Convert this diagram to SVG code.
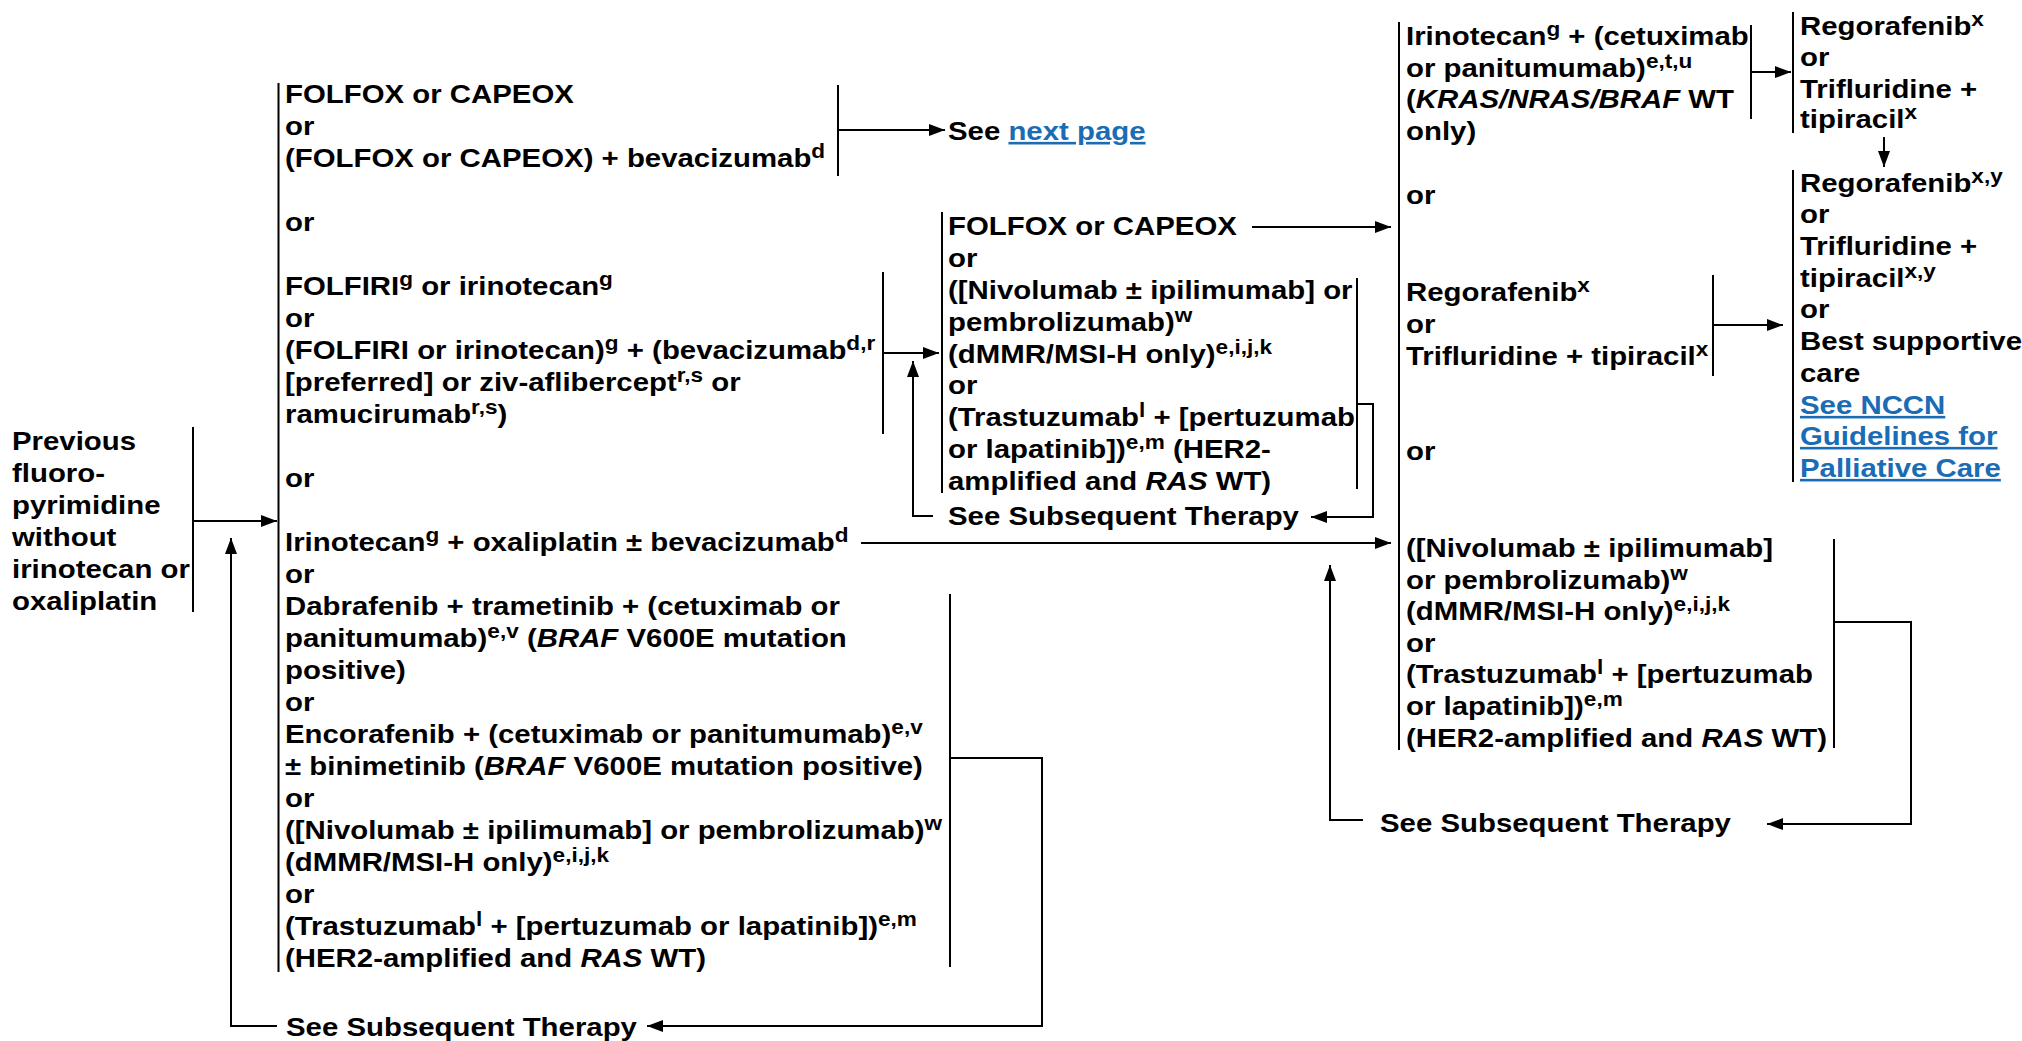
<svg xmlns="http://www.w3.org/2000/svg" width="2022" height="1041" viewBox="0 0 2022 1041">
<style>
.t{font-family:"Liberation Sans",Arial,Helvetica,sans-serif;font-weight:bold;font-size:26px;fill:#000}
.s{font-size:20px;baseline-shift:9px}
.i{font-style:italic}
.lk{fill:#1a6cb4;text-decoration:underline}
.ln{stroke:#000;stroke-width:2;fill:none}
.ar{stroke:#000;stroke-width:2;fill:none;marker-end:url(#ah)}
</style>
<defs>
<marker id="ah" viewBox="0 0 16 12" refX="16" refY="6" markerWidth="16" markerHeight="12" markerUnits="userSpaceOnUse" orient="auto"><path d="M0,0 L16,6 L0,12 z" fill="#000"/></marker>
</defs>
<rect width="2022" height="1041" fill="#fff"/>

<g id="n-start" transform="translate(12,0) scale(1.13,1)">
<text class="t"><tspan x="0" y="450">Previous</tspan><tspan x="0" y="482">fluoro-</tspan><tspan x="0" y="514">pyrimidine</tspan><tspan x="0" y="546">without</tspan><tspan x="0" y="578">irinotecan or</tspan><tspan x="0" y="610">oxaliplatin</tspan></text>
</g>

<g id="n-second-line" transform="translate(285,0) scale(1.13,1)">
<text class="t"><tspan x="0" y="103">FOLFOX or CAPEOX</tspan><tspan x="0" y="135">or</tspan><tspan x="0" y="167">(FOLFOX or CAPEOX) + bevacizumab</tspan><tspan class="s">d</tspan></text>
<text class="t" x="0" y="231">or</text>
<text class="t"><tspan x="0" y="295">FOLFIRI</tspan><tspan class="s">g</tspan><tspan> or irinotecan</tspan><tspan class="s">g</tspan><tspan x="0" y="327">or</tspan><tspan x="0" y="359">(FOLFIRI or irinotecan)</tspan><tspan class="s">g</tspan><tspan> + (bevacizumab</tspan><tspan class="s">d,r</tspan><tspan x="0" y="391">[preferred] or ziv-aflibercept</tspan><tspan class="s">r,s</tspan><tspan> or</tspan><tspan x="0" y="423">ramucirumab</tspan><tspan class="s">r,s</tspan><tspan>)</tspan></text>
<text class="t" x="0" y="487">or</text>
<text class="t"><tspan x="0" y="551">Irinotecan</tspan><tspan class="s">g</tspan><tspan> + oxaliplatin ± bevacizumab</tspan><tspan class="s">d</tspan></text>
<text class="t" x="0" y="583">or</text>
<text class="t"><tspan x="0" y="615">Dabrafenib + trametinib + (cetuximab or</tspan><tspan x="0" y="647">panitumumab)</tspan><tspan class="s">e,v</tspan><tspan> (</tspan><tspan class="i">BRAF</tspan><tspan> V600E mutation</tspan><tspan x="0" y="679">positive)</tspan><tspan x="0" y="711">or</tspan><tspan x="0" y="743">Encorafenib + (cetuximab or panitumumab)</tspan><tspan class="s">e,v</tspan><tspan x="0" y="775">± binimetinib (</tspan><tspan class="i">BRAF</tspan><tspan> V600E mutation positive)</tspan><tspan x="0" y="807">or</tspan><tspan x="0" y="839">([Nivolumab ± ipilimumab] or pembrolizumab)</tspan><tspan class="s">w</tspan><tspan x="0" y="871">(dMMR/MSI-H only)</tspan><tspan class="s">e,i,j,k</tspan><tspan x="0" y="903">or</tspan><tspan x="0" y="935">(Trastuzumab</tspan><tspan class="s">l</tspan><tspan> + [pertuzumab or lapatinib])</tspan><tspan class="s">e,m</tspan><tspan x="0" y="967">(HER2-amplified and </tspan><tspan class="i">RAS</tspan><tspan> WT)</tspan></text>
</g>

<g id="n-subseq-1" transform="translate(286,0) scale(1.13,1)">
<text class="t" x="0" y="1036">See Subsequent Therapy</text>
</g>

<g id="n-next-page" transform="translate(948,0) scale(1.13,1)">
<text class="t" x="0" y="140">See <tspan class="lk">next page</tspan></text>
</g>

<g id="n-third-line-a" transform="translate(948,0) scale(1.13,1)">
<text class="t"><tspan x="0" y="235">FOLFOX or CAPEOX</tspan><tspan x="0" y="267">or</tspan><tspan x="0" y="299">([Nivolumab ± ipilimumab] or</tspan><tspan x="0" y="331">pembrolizumab)</tspan><tspan class="s">w</tspan><tspan x="0" y="363">(dMMR/MSI-H only)</tspan><tspan class="s">e,i,j,k</tspan><tspan x="0" y="394">or</tspan><tspan x="0" y="426">(Trastuzumab</tspan><tspan class="s">l</tspan><tspan> + [pertuzumab</tspan><tspan x="0" y="458">or lapatinib])</tspan><tspan class="s">e,m</tspan><tspan> (HER2-</tspan><tspan x="0" y="490">amplified and </tspan><tspan class="i">RAS</tspan><tspan> WT)</tspan></text>
</g>

<g id="n-subseq-2" transform="translate(948,0) scale(1.13,1)">
<text class="t" x="0" y="525">See Subsequent Therapy</text>
</g>

<g id="n-third-line-b" transform="translate(1406,0) scale(1.13,1)">
<text class="t"><tspan x="0" y="45">Irinotecan</tspan><tspan class="s">g</tspan><tspan> + (cetuximab</tspan><tspan x="0" y="77">or panitumumab)</tspan><tspan class="s">e,t,u</tspan><tspan x="0" y="108">(</tspan><tspan class="i">KRAS/NRAS/BRAF</tspan><tspan> WT</tspan><tspan x="0" y="140">only)</tspan></text>
<text class="t" x="0" y="204">or</text>
<text class="t"><tspan x="0" y="301">Regorafenib</tspan><tspan class="s">x</tspan><tspan x="0" y="333">or</tspan><tspan x="0" y="365">Trifluridine + tipiracil</tspan><tspan class="s">x</tspan></text>
<text class="t" x="0" y="460">or</text>
<text class="t"><tspan x="0" y="557">([Nivolumab ± ipilimumab]</tspan><tspan x="0" y="589">or pembrolizumab)</tspan><tspan class="s">w</tspan><tspan x="0" y="620">(dMMR/MSI-H only)</tspan><tspan class="s">e,i,j,k</tspan><tspan x="0" y="652">or</tspan><tspan x="0" y="683">(Trastuzumab</tspan><tspan class="s">l</tspan><tspan> + [pertuzumab</tspan><tspan x="0" y="715">or lapatinib])</tspan><tspan class="s">e,m</tspan><tspan x="0" y="747">(HER2-amplified and </tspan><tspan class="i">RAS</tspan><tspan> WT)</tspan></text>
</g>

<g id="n-subseq-3" transform="translate(1380,0) scale(1.13,1)">
<text class="t" x="0" y="832">See Subsequent Therapy</text>
</g>

<g id="n-fourth-line" transform="translate(1800,0) scale(1.13,1)">
<text class="t"><tspan x="0" y="35">Regorafenib</tspan><tspan class="s">x</tspan><tspan x="0" y="66">or</tspan><tspan x="0" y="98">Trifluridine +</tspan><tspan x="0" y="128">tipiracil</tspan><tspan class="s">x</tspan></text>
</g>

<g id="n-fifth-line" transform="translate(1800,0) scale(1.13,1)">
<text class="t"><tspan x="0" y="192">Regorafenib</tspan><tspan class="s">x,y</tspan><tspan x="0" y="223">or</tspan><tspan x="0" y="255">Trifluridine +</tspan><tspan x="0" y="287">tipiracil</tspan><tspan class="s">x,y</tspan><tspan x="0" y="318">or</tspan><tspan x="0" y="350">Best supportive</tspan><tspan x="0" y="382">care</tspan></text>
<text class="t lk"><tspan x="0" y="414">See NCCN</tspan><tspan x="0" y="445">Guidelines for</tspan><tspan x="0" y="477">Palliative Care</tspan></text>
</g>

<g id="connectors">
<line class="ln" x1="193" y1="427" x2="193" y2="612"/>
<line class="ar" x1="193" y1="521" x2="277" y2="521"/>
<polyline class="ar" points="277,1026 231,1026 231,538"/>
<line class="ln" x1="278.5" y1="83" x2="278.5" y2="972"/>
<line class="ln" x1="838" y1="85" x2="838" y2="176"/>
<line class="ar" x1="838" y1="130" x2="945" y2="130"/>
<line class="ln" x1="883" y1="272" x2="883" y2="434"/>
<line class="ar" x1="883" y1="353" x2="939" y2="353"/>
<polyline class="ar" points="933,516 913,516 913,361"/>
<line class="ln" x1="942" y1="212" x2="942" y2="493"/>
<line class="ln" x1="1357" y1="278" x2="1357" y2="489"/>
<polyline class="ar" points="1357,404 1373,404 1373,517 1311,517"/>
<line class="ar" x1="1252" y1="227" x2="1391" y2="227"/>
<line class="ar" x1="861" y1="543" x2="1391" y2="543"/>
<line class="ln" x1="950" y1="594" x2="950" y2="967"/>
<polyline class="ar" points="950,758 1042,758 1042,1026 647,1026"/>
<line class="ln" x1="1399" y1="22" x2="1399" y2="750"/>
<line class="ln" x1="1751" y1="25" x2="1751" y2="119"/>
<line class="ar" x1="1751" y1="72" x2="1791" y2="72"/>
<line class="ln" x1="1793" y1="12" x2="1793" y2="133"/>
<line class="ar" x1="1884" y1="137" x2="1884" y2="167"/>
<line class="ln" x1="1793" y1="170" x2="1793" y2="482"/>
<line class="ln" x1="1713" y1="275" x2="1713" y2="376"/>
<line class="ar" x1="1713" y1="325" x2="1783" y2="325"/>
<line class="ln" x1="1834" y1="539" x2="1834" y2="748"/>
<polyline class="ar" points="1834,622 1911,622 1911,824 1767,824"/>
<polyline class="ar" points="1363,820 1330,820 1330,565"/>
</g>
</svg>
